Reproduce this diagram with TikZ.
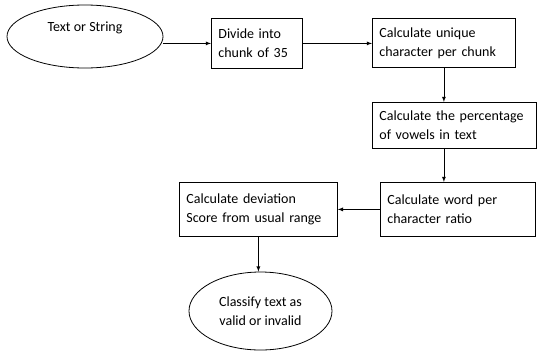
\documentclass[tikz,border=0pt]{standalone}
\usepackage{fontspec}
\setmainfont{Carlito}
\usepackage{tikz}
\usetikzlibrary{shapes,arrows,positioning}

\begin{document}
\begin{tikzpicture}[x=1pt,y=-1pt,line width=0.8pt]
    \tikzstyle{process} = [rectangle, draw, align=left, inner xsep=7pt, inner ysep=0pt, font=\fontsize{14}{19}\selectfont]
    \tikzstyle{terminal} = [ellipse, draw, align=center, inner sep=0pt, font=\fontsize{14}{19}\selectfont]
    \tikzstyle{arrow} = [->,>=latex]

    \useasboundingbox (0,0) rectangle (537,351);

    \node [terminal, minimum width=156pt, minimum height=63pt] (input) at (85,36.5) {Text or String\\\mbox{}};
    \node [process, text width=77pt, minimum height=50pt, anchor=north west] (divide) at (211,18) {Divide into\\chunk of 35};
    \node [process, text width=129pt, minimum height=49pt, anchor=north west] (unique) at (372,18) {Calculate unique\\character per chunk};
    \node [process, text width=150pt, minimum height=46pt, anchor=north west] (vowels) at (372,102) {Calculate the percentage\\of vowels in text};
    \node [process, text width=141pt, minimum height=54pt, anchor=north west] (ratio) at (380,182) {Calculate word per\\character ratio};
    \node [process, text width=144pt, minimum height=54pt, anchor=north west] (deviation) at (179,182) {Calculate deviation\\Score from usual range};
    \node [terminal, minimum width=143pt, minimum height=78pt] (classify) at (260.5,311) {Classify text as\\valid or invalid};

    \draw [arrow] (input.east |- divide.west) -- (divide.west);
    \draw [arrow] (divide.east) -- (divide.east -| unique.west);
    \draw [arrow] (unique.south) -- (unique.south |- vowels.north);
    \draw [arrow] (vowels.south -| unique.south) -- (ratio.north -| unique.south);
    \draw [arrow] (ratio.west) -- (deviation.east);
    \draw [arrow] (deviation.south) -- (deviation.south |- classify.north);
\end{tikzpicture}
\end{document}
